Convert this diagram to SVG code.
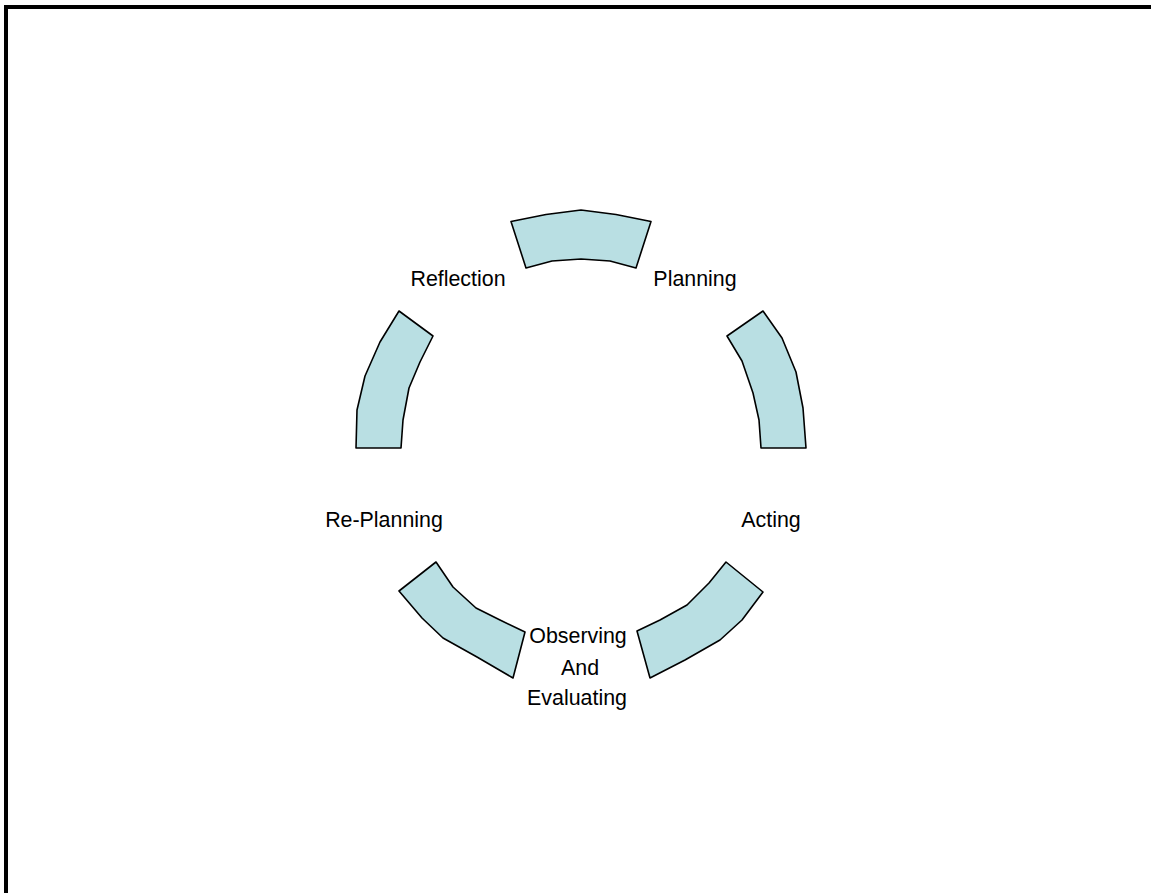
<svg xmlns="http://www.w3.org/2000/svg" width="1151" height="893" viewBox="0 0 1151 893">
  <style>
    .seg { fill: #b9dfe3; stroke: #000000; stroke-width: 1.6; stroke-linejoin: round; }
    .lbl { font-family: "Liberation Sans", Arial, sans-serif; font-size: 21.4px; fill: #000000; text-anchor: middle; }
    .frame { fill: none; stroke: #000000; stroke-width: 4; }
  </style>
  <rect x="0" y="0" width="1151" height="893" fill="#ffffff"/>
  <path class="frame" d="M6,900 V7 H1160"/>
  <g id="connectors">
    <polygon id="arc-top" class="seg" points="511,221.5 546,214.5 581,210 616,214.5 651,221.5 636,268 610,261 581,259 552,261 526,268"/>
    <polygon id="arc-right" class="seg" points="763,311 782,338 796,372 803,408 806,448 761,448 759,420 753,393 742,361 727,336"/>
    <polygon id="arc-bottom-right" class="seg" points="726,562 763,592 742,620 720,640 685,660 650,678 637,631 660,620 687,605 709,583"/>
    <polygon id="arc-bottom-left" class="seg" points="436,562 399,591 422,618 443,638 477,657 513,678 525,632 500,620 476,608 453,587"/>
    <polygon id="arc-left" class="seg" points="399,311 380,342 365,376 357,410 356,448 401,448 403,420 409,388 420,362 433,336"/>
  </g>
  <g id="node-planning"><text class="lbl" x="695" y="286">Planning</text></g>
  <g id="node-acting"><text class="lbl" x="771" y="527">Acting</text></g>
  <g id="node-observing"><text class="lbl" x="578" y="643">Observing</text><text class="lbl" x="580" y="675">And</text><text class="lbl" x="577" y="705">Evaluating</text></g>
  <g id="node-replanning"><text class="lbl" x="384" y="527">Re-Planning</text></g>
  <g id="node-reflection"><text class="lbl" x="458" y="286">Reflection</text></g>
</svg>
